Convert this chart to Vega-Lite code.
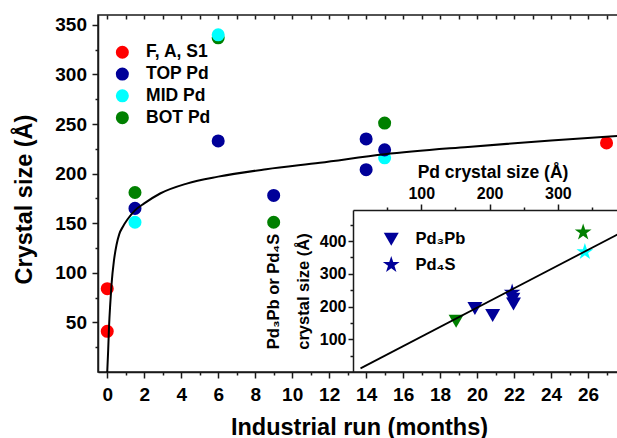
{
  "$schema": "https://vega.github.io/schema/vega-lite/v6.json",
  "width": 520,
  "height": 357,
  "autosize": {"type": "none"},
  "padding": {"left": 98, "top": 15, "right": 0, "bottom": 66},
  "config": {
    "view": {"stroke": "#1a1a1a", "strokeWidth": 1.5},
    "font": "Liberation Sans",
    "axis": {
      "labelFont": "Liberation Sans", "labelFontWeight": "bold", "labelColor": "black",
      "titleFont": "Liberation Sans", "titleFontWeight": "bold", "titleColor": "black",
      "domainColor": "#1a1a1a", "tickColor": "#1a1a1a", "domainWidth": 1.5, "tickWidth": 1.5,
      "grid": false, "labelOverlap": false, "labelFlush": false
    },
    "legend": {
      "labelFont": "Liberation Sans", "labelFontWeight": "bold", "labelColor": "black",
      "padding": 0, "symbolStrokeWidth": 0
    }
  },
  "datasets": {
    "points": [
      {"x": 1.5, "y": 181, "series": "BOT Pd"},
      {"x": 6, "y": 337, "series": "BOT Pd"},
      {"x": 9, "y": 151, "series": "BOT Pd"},
      {"x": 15, "y": 251, "series": "BOT Pd"},
      {"x": 1.5, "y": 151, "series": "MID Pd"},
      {"x": 6, "y": 340, "series": "MID Pd"},
      {"x": 15, "y": 216, "series": "MID Pd"},
      {"x": 1.5, "y": 165, "series": "TOP Pd"},
      {"x": 6, "y": 233, "series": "TOP Pd"},
      {"x": 9, "y": 178, "series": "TOP Pd"},
      {"x": 14, "y": 235, "series": "TOP Pd"},
      {"x": 14, "y": 204, "series": "TOP Pd"},
      {"x": 15, "y": 224, "series": "TOP Pd"},
      {"x": 0, "y": 41, "series": "F, A, S1"},
      {"x": 0, "y": 84, "series": "F, A, S1"},
      {"x": 27, "y": 231, "series": "F, A, S1"}
    ],
    "curve": [
      {"x": 0, "y": 0}, {"x": 0.05, "y": 22}, {"x": 0.1, "y": 47}, {"x": 0.16, "y": 68},
      {"x": 0.23, "y": 88}, {"x": 0.36, "y": 112}, {"x": 0.5, "y": 128}, {"x": 0.65, "y": 139},
      {"x": 0.86, "y": 147}, {"x": 1.1, "y": 154}, {"x": 1.5, "y": 163}, {"x": 2, "y": 170},
      {"x": 2.86, "y": 180}, {"x": 4.3, "y": 190}, {"x": 6, "y": 197}, {"x": 8.6, "y": 204.5},
      {"x": 11.5, "y": 211}, {"x": 15, "y": 219.5}, {"x": 19.5, "y": 227}, {"x": 24, "y": 233.5},
      {"x": 27.62, "y": 238}
    ],
    "inset": [
      {"px": 151, "py": 155, "series": "BOT Pd", "phase": "Pd₃Pb"},
      {"px": 178.5, "py": 194, "series": "TOP Pd", "phase": "Pd₃Pb"},
      {"px": 204.5, "py": 173, "series": "TOP Pd", "phase": "Pd₃Pb"},
      {"px": 234, "py": 222, "series": "TOP Pd", "phase": "Pd₃Pb"},
      {"px": 235, "py": 208, "series": "TOP Pd", "phase": "Pd₃Pb"},
      {"px": 233, "py": 243, "series": "TOP Pd", "phase": "Pd₄S"},
      {"px": 337, "py": 427, "series": "BOT Pd", "phase": "Pd₄S"},
      {"px": 339.5, "py": 367, "series": "MID Pd", "phase": "Pd₄S"}
    ],
    "insetLine": [
      {"px": 11, "py": 11},
      {"px": 388, "py": 421}
    ]
  },
  "layer": [
    {
      "data": {"name": "points"},
      "mark": {"type": "point", "filled": true, "size": 170, "opacity": 1, "shape": "circle"},
      "encoding": {
        "x": {
          "field": "x", "type": "quantitative",
          "scale": {"domain": [-0.5, 27.62], "nice": false, "zero": false},
          "axis": {
            "orient": "top", "title": null, "labels": false, "domain": false, "offset": -4,
            "values": [0,1,2,3,4,5,6,7,8,9,10,11,12,13,14,15,16,17,18,19,20,21,22,23,24,25,26,27],
            "tickSize": 4
          }
        },
        "y": {
          "field": "y", "type": "quantitative",
          "scale": {"domain": [0, 360], "nice": false, "zero": false},
          "axis": {
            "orient": "left", "title": "Crystal size (Å)",
            "values": [25,50,75,100,125,150,175,200,225,250,275,300,325,350],
            "labelExpr": "datum.value % 50 === 0 ? datum.label : ''",
            "tickSize": {"condition": {"test": "datum.value % 50 !== 0", "value": 3}, "value": 6},
            "labelFontSize": 19, "labelPadding": 5.5,
            "titleFontSize": 23.5, "titleX": -74, "titleY": 184,
            "titleBaseline": "middle", "titleAlign": "center", "titleAngle": 270
          }
        },
        "color": {
          "field": "series", "type": "nominal",
          "scale": {
            "domain": ["F, A, S1", "TOP Pd", "MID Pd", "BOT Pd"],
            "range": ["#FF0000", "#000099", "#00FFFF", "#008000"]
          },
          "legend": {
            "title": null, "orient": "none", "legendX": 15.6, "legendY": 28.5,
            "symbolType": "circle", "symbolSize": 170, "labelFontSize": 17.5,
            "labelOffset": 15, "rowPadding": 2.8
          }
        }
      }
    },
    {
      "data": {"name": "curve"},
      "mark": {"type": "line", "color": "black", "strokeWidth": 2, "interpolate": "monotone"},
      "encoding": {
        "x": {
          "field": "x", "type": "quantitative",
          "scale": {"domain": [-0.5, 27.62], "nice": false, "zero": false},
          "axis": {
            "orient": "bottom", "title": "Industrial run (months)",
            "values": [0,1,2,3,4,5,6,7,8,9,10,11,12,13,14,15,16,17,18,19,20,21,22,23,24,25,26,27],
            "labelExpr": "datum.value % 2 === 0 ? datum.label : ''",
            "tickSize": {"condition": {"test": "datum.value % 2 !== 0", "value": 3}, "value": 6},
            "labelFontSize": 19, "labelPadding": 7,
            "titleFontSize": 23.5, "titleX": 261, "titleY": 62, "titleBaseline": "alphabetic"
          }
        },
        "y": {
          "field": "y", "type": "quantitative",
          "scale": {"domain": [0, 360], "nice": false, "zero": false},
          "axis": null
        }
      }
    },
    {
      "data": {"name": "inset"},
      "mark": {"type": "point", "filled": true, "size": 225, "opacity": 1},
      "encoding": {
        "x": {
          "field": "px", "type": "quantitative",
          "scale": {"domain": [0, 388], "range": [255, 520], "nice": false, "zero": false},
          "axis": {
            "orient": "top", "offset": -195, "title": "Pd crystal size (Å)",
            "values": [50, 100, 150, 200, 250, 300, 350],
            "labelExpr": "datum.value % 100 === 0 ? datum.label : ''",
            "tickSize": {"condition": {"test": "datum.value % 100 !== 0", "value": 3}, "value": 6},
            "labelFontSize": 16, "labelPadding": 3,
            "titleFontSize": 17.5, "titleX": 394.5, "titleY": -33, "titleBaseline": "alphabetic"
          }
        },
        "y": {
          "field": "py", "type": "quantitative",
          "scale": {"domain": [0, 495], "range": [357, 195], "nice": false, "zero": false},
          "axis": {
            "orient": "left", "offset": -255,
            "title": ["Pd₃Pb or Pd₄S", "crystal size (Å)"],
            "values": [50, 100, 150, 200, 250, 300, 350, 400, 450],
            "labelExpr": "datum.value % 100 === 0 ? datum.label : ''",
            "tickSize": {"condition": {"test": "datum.value % 100 !== 0", "value": 3}, "value": 5},
            "labelFontSize": 16, "labelPadding": 2,
            "titleFontSize": 16.5, "titleLineHeight": 30, "titleX": -80, "titleY": 276,
            "titleBaseline": "middle", "titleAlign": "center", "titleAngle": 270
          }
        },
        "color": {"field": "series", "type": "nominal"},
        "shape": {
          "field": "phase", "type": "nominal",
          "scale": {
            "domain": ["Pd₃Pb", "Pd₄S"],
            "range": ["triangle-down", "M0,-1.18L0.265,-0.365L1.12,-0.365L0.428,0.139L0.694,0.955L0,0.451L-0.694,0.955L-0.428,0.139L-1.12,-0.365L-0.265,-0.365Z"]
          },
          "legend": {
            "title": null, "orient": "none", "legendX": 285, "legendY": 216,
            "symbolSize": 225, "labelFontSize": 16.5, "labelOffset": 16, "rowPadding": 7.5,
            "symbolFillColor": "#000099", "symbolStrokeColor": "#000099"
          }
        }
      }
    },
    {
      "data": {"name": "insetLine"},
      "mark": {"type": "line", "color": "black", "strokeWidth": 1.8},
      "encoding": {
        "x": {"field": "px", "type": "quantitative", "scale": {"domain": [0, 388], "range": [255, 520], "nice": false, "zero": false}, "axis": null},
        "y": {"field": "py", "type": "quantitative", "scale": {"domain": [0, 495], "range": [357, 195], "nice": false, "zero": false}, "axis": null}
      }
    }
  ],
  "resolve": {"scale": {"x": "independent", "y": "independent"}}
}
